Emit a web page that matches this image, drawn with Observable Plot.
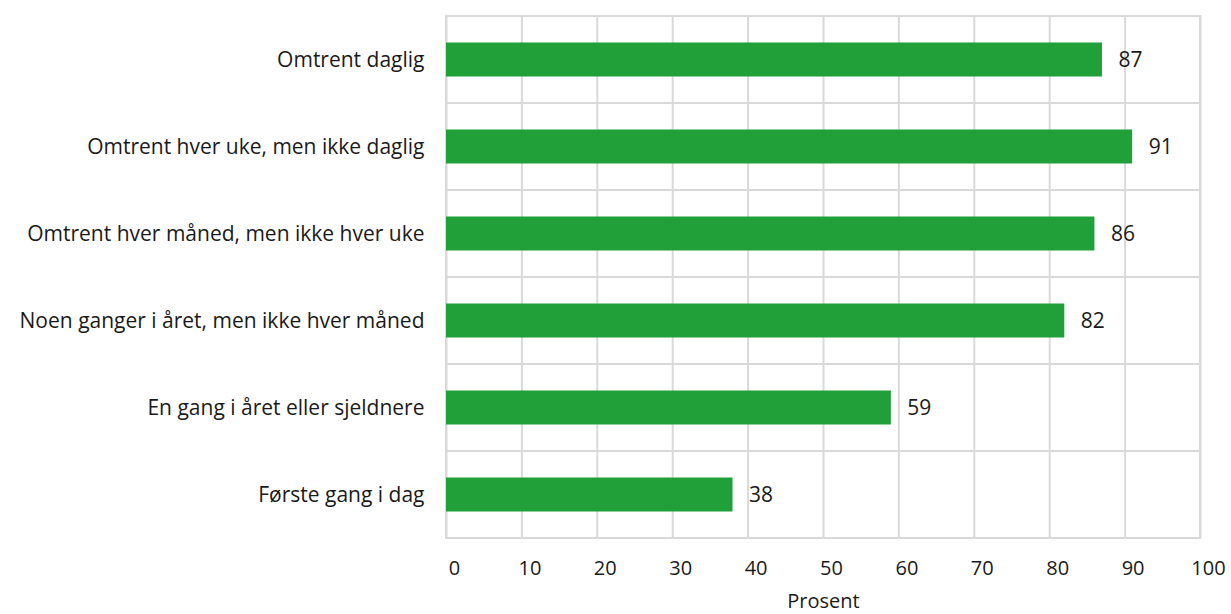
<!DOCTYPE html>
<html>
<head>
<meta charset="utf-8">
<script src="https://cdn.jsdelivr.net/npm/d3@7"></script>
<script src="https://cdn.jsdelivr.net/npm/@observablehq/plot@0.6"></script>
<style>
  html, body { margin: 0; padding: 0; background: #fff; }
  #chart svg { display: block; }
</style>
</head>
<body>
<div id="chart"></div>
<script>
// How often respondents do the activity, and share (percent) for each group
const categories = [
  "Omtrent daglig",
  "Omtrent hver uke, men ikke daglig",
  "Omtrent hver måned, men ikke hver uke",
  "Noen ganger i året, men ikke hver måned",
  "En gang i året eller sjeldnere",
  "Første gang i dag"
];
const values = [87, 91, 86, 82, 59, 38];
const xTicks = [0, 10, 20, 30, 40, 50, 60, 70, 80, 90, 100];

const data = categories.map((c, i) => ({ category: c, value: values[i] }));

const gridColor = "#d9d9d9";
const textColor = "#1a1a1a";
const font = "'Open Sans', sans-serif";

const chart = Plot.plot({
  width: 1231,
  height: 614,
  marginLeft: 446,
  marginRight: 31,
  marginTop: 15,
  marginBottom: 76,
  style: { fontFamily: font, fontSize: "21px", color: textColor, background: "#fff" },
  x: { domain: [0, 100], ticks: xTicks, label: null },
  y: { domain: categories, padding: 0, label: null },
  marks: [
    // vertical grid lines every 10
    Plot.ruleX(xTicks, { stroke: gridColor, strokeWidth: 2 }),
    // band outlines give the horizontal separators and the frame
    Plot.barX(categories, { y: d => d, x1: 0, x2: 100, fill: "none", stroke: gridColor, strokeWidth: 2 }),
    Plot.barX(data, { y: "category", x: "value", fill: "#21a03a", insetTop: 26.5, insetBottom: 26.5 }),
    Plot.text(data, {
      y: "category", x: "value", text: d => String(d.value),
      textAnchor: "start", dx: 16, fill: textColor, fontSize: 21
    }),
    Plot.axisX(xTicks, {
      tickSize: 0, tickPadding: 22, dx: 8, fontSize: 20, fill: textColor,
      label: null
    }),
    Plot.text(["Prosent"], {
      frameAnchor: "bottom", lineAnchor: "middle", dy: 63, fontSize: 20, fill: textColor
    }),
    Plot.axisY({ tickSize: 0, tickPadding: 22, fontSize: 21, fill: textColor, label: null })
  ]
});

document.getElementById("chart").append(chart);
</script>
</body>
</html>
